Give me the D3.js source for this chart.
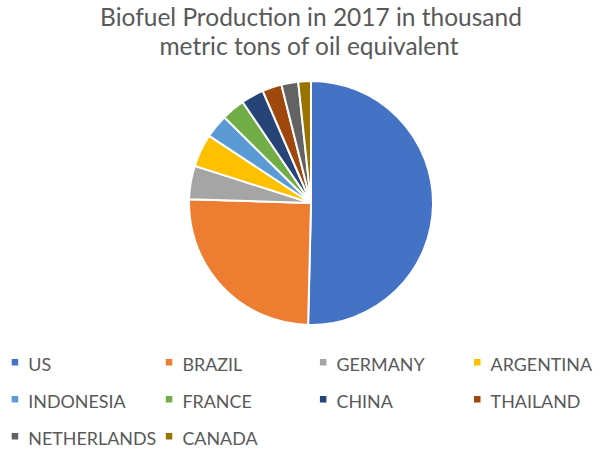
<!DOCTYPE html>
<html>
<head>
<meta charset="utf-8">
<script src="https://cdn.jsdelivr.net/npm/d3@7"></script>
<style>
  html, body { margin: 0; padding: 0; background: #fff; }
  svg { display: block; }
</style>
</head>
<body>
<svg id="chart" width="601" height="450"></svg>
<script>
const titleLines = ["Biofuel Production in 2017 in thousand", "metric tons of oil equivalent"];
const countries = ["US", "BRAZIL", "GERMANY", "ARGENTINA", "INDONESIA", "FRANCE", "CHINA", "THAILAND", "NETHERLANDS", "CANADA"];
const production = [35800, 17850, 3140, 3100, 2230, 2210, 2130, 1830, 1580, 1190];
const colors = ["#4472C4", "#ED7D31", "#A5A5A5", "#FFC000", "#5B9BD5", "#70AD47", "#264478", "#9E480E", "#636363", "#997300"];

const svg = d3.select("#chart");
const W = 601, H = 450;
const font = "Lato, 'Open Sans', sans-serif";
const textColor = "#595959";

// Title
const title = svg.append("g");
const titleSizeProbe = 22;
const t1 = title.append("text")
  .attr("x", 311).attr("y", 26)
  .attr("text-anchor", "middle")
  .style("font-family", font).style("font-size", titleSizeProbe + "px")
  .attr("fill", textColor)
  .text(titleLines[0]);
const w1 = t1.node().getComputedTextLength();
const titleSize = titleSizeProbe * 422 / w1;
t1.style("font-size", titleSize + "px");
title.append("text")
  .attr("x", 309).attr("y", 55)
  .attr("text-anchor", "middle")
  .style("font-family", font).style("font-size", titleSize + "px")
  .attr("fill", textColor)
  .text(titleLines[1]);

// Pie
const cx = 311, cy = 203, r = 122;
const color = d3.scaleOrdinal().domain(countries).range(colors);
const pie = d3.pie().sort(null).value(d => d.value);
const arc = d3.arc().innerRadius(0).outerRadius(r);
const data = countries.map((c, i) => ({ name: c, value: production[i] }));

svg.append("g")
  .attr("transform", `translate(${cx},${cy})`)
  .selectAll("path")
  .data(pie(data))
  .join("path")
  .attr("d", arc)
  .attr("fill", d => color(d.data.name))
  .attr("stroke", "#fff")
  .attr("stroke-width", 2)
  .attr("stroke-linejoin", "round");

// Legend
const colX = d3.scalePoint().domain([0, 1, 2, 3]).range([11.7, 474]);
const rowY = d3.scalePoint().domain([0, 1, 2]).range([371, 445]);
const legend = svg.append("g");
const items = legend.selectAll("g")
  .data(data)
  .join("g")
  .attr("transform", (d, i) => `translate(${colX(i % 4)},${rowY(Math.floor(i / 4))})`);
items.append("rect")
  .attr("x", 0).attr("y", -12)
  .attr("width", 6.5).attr("height", 6.5)
  .attr("fill", d => color(d.name));
const legendProbe = 17;
const labels = items.append("text")
  .attr("x", 16.6).attr("y", 0)
  .style("font-family", font).style("font-size", legendProbe + "px")
  .attr("fill", textColor)
  .text(d => d.name);
const nl = labels.filter(d => d.name === "NETHERLANDS").node().getComputedTextLength();
labels.style("font-size", (legendProbe * 128 / nl) + "px");
</script>
</body>
</html>
